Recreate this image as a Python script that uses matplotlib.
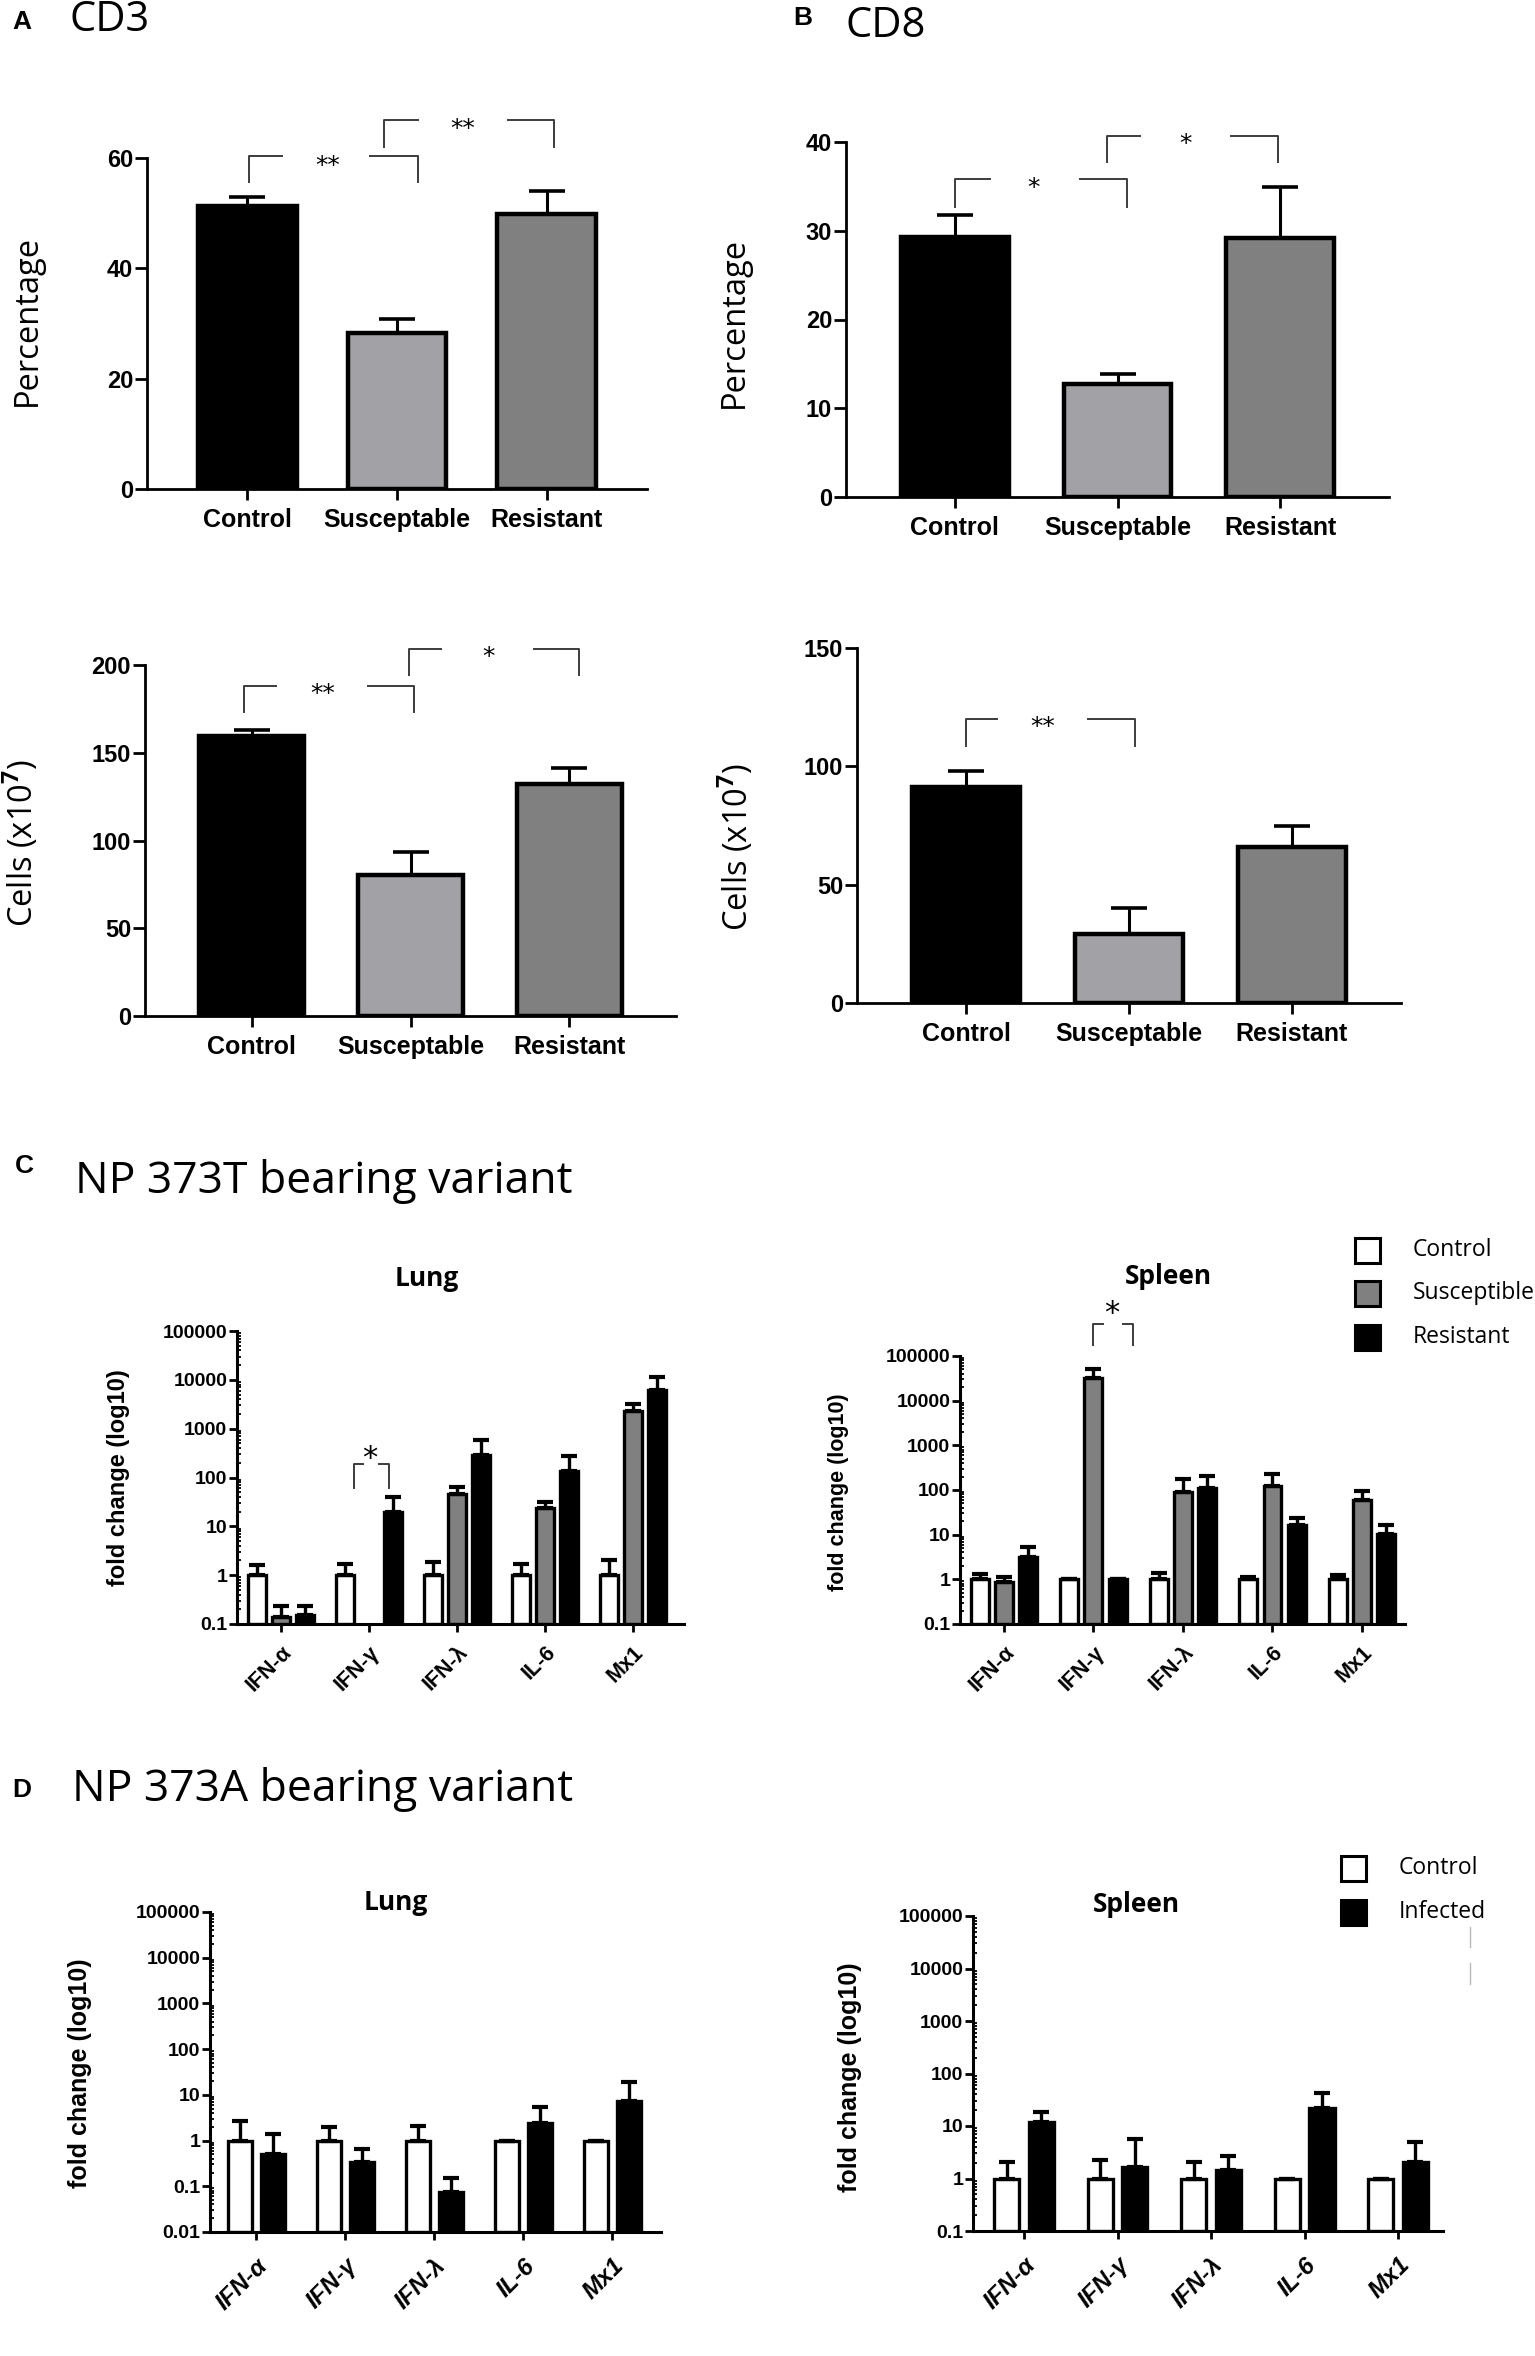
import numpy as np
import matplotlib.pyplot as plt
from matplotlib.patches import Rectangle
from matplotlib.lines import Line2D
from matplotlib.ticker import LogLocator, NullFormatter

plt.rcParams["font.family"] = ["Liberation Sans", "DejaVu Sans"]
plt.rcParams["font.weight"] = "bold"
plt.rcParams["mathtext.fontset"] = "custom"
plt.rcParams["mathtext.rm"] = "Open Sans"

W, H = 1535, 2356  # output size in pixels

# ---- panels A / B : mean and SEM ----
ab_groups = ["Control", "Susceptable", "Resistant"]
cd3_pct = [51.3, 28.3, 49.9]
cd3_pct_err = [1.7, 2.5, 4.2]
cd3_cells = [159.5, 80.2, 132.4]
cd3_cells_err = [3.5, 13.1, 9.1]
cd8_pct = [29.3, 12.7, 29.2]
cd8_pct_err = [2.5, 1.2, 5.7]
cd8_cells = [91.1, 29.0, 65.8]
cd8_cells_err = [7.0, 11.3, 9.1]

# ---- panels C / D : fold change ----
genes = ["IFN-α", "IFN-γ", "IFN-λ", "IL-6", "Mx1"]
c_groups = ["Control", "Susceptible", "Resistant"]
c_lung = [[1.0, 1.0, 1.0, 1.0, 1.0],
          [0.14, np.nan, 46, 23.8, 2340],
          [0.155, 19.5, 290, 137, 6160]]
c_lung_err = [[0.6, 0.73, 0.85, 0.73, 1.05],
              [0.095, np.nan, 19, 8, 820],
              [0.08, 19.5, 295, 135, 5240]]
c_spleen = [[1.0, 1.0, 1.0, 1.0, 1.0],
            [0.89, 33000, 92, 125, 60],
            [3.13, 1.0, 113, 16.7, 10.3]]
c_spleen_err = [[0.34, 0, 0.4, 0.1, 0.25],
                [0.26, 17600, 83, 98, 37],
                [2.2, 0, 96, 6.8, 6.4]]

d_groups = ["Control", "Infected"]
d_lung = [[1.0, 1.0, 1.0, 1.0, 1.0],
          [0.50, 0.34, 0.074, 2.47, 7.3]]
d_lung_err = [[1.72, 1.0, 1.13, 0, 0],
              [0.9, 0.31, 0.076, 3.0, 12.1]]
d_spleen = [[1.0, 1.0, 1.0, 1.0, 1.0],
            [11.7, 1.69, 1.45, 22.2, 2.1]]
d_spleen_err = [[1.02, 1.28, 1.02, 0, 0],
                [6.6, 3.9, 1.2, 20.2, 2.9]]

c_ticks = [0.1, 1, 10, 100, 1000, 10000, 100000]
d_lung_ticks = [0.01, 0.1, 1, 10, 100, 1000, 10000, 100000]

AB_COLORS = ["black", "#a2a2a6", "#808080"]
C_COLORS = ["white", "#808080", "black"]
D_COLORS = ["white", "black"]
BRACKET_COLOR = "#3c3c3c"

fig = plt.figure(figsize=(W / 100, H / 100), dpi=100)


def add_ax(left, top, right, bottom):
    """ axes from a pixel box """
    return fig.add_axes([left / W, 1 - bottom / H, (right - left) / W, (bottom - top) / H])


def ftext(x, y, s, **kw):
    return fig.text(x / W, 1 - y / H, s, **kw)


def style_spines(ax, lw):
    for s in ["top", "right"]:
        ax.spines[s].set_visible(False)
    for s in ["left", "bottom"]:
        ax.spines[s].set_linewidth(lw)


def bar_panel(box, values, errs, yticks):
    ax = add_ax(*box)
    x = np.arange(len(ab_groups))
    ax.bar(x, values, width=0.66, color=AB_COLORS, edgecolor="k", linewidth=3.2, zorder=2)
    ax.errorbar(x, values, yerr=[np.zeros(len(x)), errs], fmt="none", ecolor="k",
                elinewidth=2.2, capsize=13, capthick=2.6, zorder=3)
    style_spines(ax, 2.0)
    ax.set_xlim(-0.67, 2.67)
    ax.set_ylim(0, yticks[-1])
    ax.set_yticks(yticks)
    ax.set_xticks(x, ab_groups)
    ax.tick_params(axis="y", length=9, width=2, pad=1, labelsize=17)
    ax.tick_params(axis="x", length=8, width=2, pad=6, labelsize=18)
    return ax


def bracket(ax, x1, x2, ytop, ybot, g1, g2, label, tx, ty, size=18):
    kw = dict(color=BRACKET_COLOR, lw=1.4, clip_on=False, solid_joinstyle="round")
    ax.plot([x1, x1, g1], [ybot, ytop, ytop], **kw)
    ax.plot([g2, x2, x2], [ytop, ytop, ybot], **kw)
    ax.text(tx, ty, label, ha="center", va="center", fontsize=size,
            family="DejaVu Sans", weight="normal", clip_on=False)


def log_panel(box, xlim, series, errs, colors, offsets, width, ticks, capsize,
              xlabel_size, xlabel_pad, italic=False):
    ax = add_ax(*box)
    ax.set_yscale("log")
    base = ticks[0]
    x = np.arange(len(genes))
    for vals, err, col, off in zip(series, errs, colors, offsets):
        v = np.array(vals, float)
        e = np.array(err, float)
        ax.bar(x + off, v - base, bottom=base, width=width, color=col,
               edgecolor="k", linewidth=2.4, zorder=2)
        ax.errorbar(x + off, v, yerr=[np.zeros(len(x)), e], fmt="none", ecolor="k",
                    elinewidth=2.4, capsize=capsize, capthick=3, zorder=3)
    style_spines(ax, 2.2)
    ax.set_xlim(*xlim)
    ax.set_ylim(ticks[0], ticks[-1])
    ax.set_yticks(ticks, ["%g" % t if t < 1 else "%d" % t for t in ticks])
    ax.yaxis.set_minor_locator(LogLocator(base=10, subs=np.arange(2, 10), numticks=30))
    ax.yaxis.set_minor_formatter(NullFormatter())
    ax.set_xticks(x)
    ax.set_xticklabels(genes, rotation=45, ha="right", rotation_mode="anchor",
                       fontsize=xlabel_size, style="italic" if italic else "normal")
    ax.tick_params(axis="y", which="major", length=6, width=2, pad=1, labelsize=14)
    ax.tick_params(axis="y", which="minor", direction="in", length=3, width=1.3)
    ax.tick_params(axis="x", length=6, width=2, pad=xlabel_pad)
    return ax


def legend_boxes(x, ys, labels, colors, size=16.5):
    for y, lab, col in zip(ys, labels, colors):
        fig.add_artist(Rectangle((x / W, 1 - (y + 13) / H), 25 / W, 25 / H,
                                 transform=fig.transFigure, facecolor=col,
                                 edgecolor="k", linewidth=2.2))
        ftext(x + 58, y, lab, ha="left", va="center", fontsize=size,
              family="Open Sans", weight="normal")


# ---------------- A : CD3 ----------------
ftext(22, 22, "A", ha="center", va="center", fontsize=19)
ftext(70, 20, "CD3", ha="left", va="center", fontsize=30, family="Open Sans", weight="normal")
a1 = bar_panel((147, 158, 647, 489), cd3_pct, cd3_pct_err, [0, 20, 40, 60])
bracket(a1, 0.01, 1.14, 60.3, 55.6, 0.23, 0.82, "**", 0.54, 58.6)
bracket(a1, 0.915, 2.05, 66.9, 62.0, 1.14, 1.74, "**", 1.44, 65.3)
ftext(27, 320, "Percentage", rotation=90, ha="center", va="center", fontsize=23.5,
      family="Open Sans", weight="normal")

a2 = bar_panel((145, 665, 676, 1016), cd3_cells, cd3_cells_err, [0, 50, 100, 150, 200])
bracket(a2, -0.05, 1.02, 188.2, 173.0, 0.155, 0.73, "**", 0.45, 183.5)
bracket(a2, 0.99, 2.06, 208.9, 194.3, 1.19, 1.775, "*", 1.49, 204.5)
ftext(21, 843, "Cells (x10$^{7}$)", rotation=90, ha="center", va="center", fontsize=23.5,
      family="Open Sans", weight="normal")

# ---------------- B : CD8 ----------------
ftext(803, 18, "B", ha="center", va="center", fontsize=19)
ftext(845, 26, "CD8", ha="left", va="center", fontsize=30, family="Open Sans", weight="normal")
b1 = bar_panel((846, 142, 1389, 497), cd8_pct, cd8_pct_err, [0, 10, 20, 30, 40])
bracket(b1, 0.0, 1.058, 35.8, 32.7, 0.215, 0.77, "*", 0.485, 34.8)
bracket(b1, 0.936, 1.987, 40.7, 37.7, 1.14, 1.70, "*", 1.417, 39.8)
ftext(734, 322, "Percentage", rotation=90, ha="center", va="center", fontsize=23.5,
      family="Open Sans", weight="normal")

b2 = bar_panel((857, 648, 1401, 1003), cd8_cells, cd8_cells_err, [0, 50, 100, 150])
bracket(b2, 0.0, 1.036, 120.1, 108.7, 0.19, 0.746, "**", 0.47, 116.5)
ftext(736, 847, "Cells (x10$^{7}$)", rotation=90, ha="center", va="center", fontsize=23.5,
      family="Open Sans", weight="normal")

# ---------------- C : NP 373T ----------------
ftext(24, 1166, "C", ha="center", va="center", fontsize=19)
ftext(75, 1182, "NP 373T bearing variant", ha="left", va="center", fontsize=32,
      family="Open Sans", weight="normal")

c1 = log_panel((237, 1331, 684, 1624), (-0.5, 4.58), c_lung, c_lung_err, C_COLORS,
               [-0.275, 0, 0.275], 0.21, c_ticks, 6, 15.5, 7)
bracket(c1, 0.83, 1.23, 190, 60, 0.93, 1.11, "*", 1.01, 250, size=22)
ftext(427, 1278, "Lung", ha="center", va="center", fontsize=19, family="Open Sans")
ftext(118, 1478, "fold change (log10)", rotation=90, ha="center", va="center", fontsize=17)

c2 = log_panel((960, 1356, 1405, 1624), (-0.49, 4.48), c_spleen, c_spleen_err, C_COLORS,
               [-0.27, 0, 0.27], 0.2, c_ticks, 6, 15.5, 7)
bracket(c2, 0.997, 1.44, 5.2e5, 1.76e5, 1.11, 1.33, "*", 1.21, 9.0e5, size=22)
ftext(1168, 1276, "Spleen", ha="center", va="center", fontsize=19, family="Open Sans")
ftext(838, 1492, "fold change (log10)", rotation=90, ha="center", va="center", fontsize=15.5)
legend_boxes(1355, [1250, 1293, 1337], c_groups, C_COLORS)

# ---------------- D : NP 373A ----------------
ftext(22, 1790, "D", ha="center", va="center", fontsize=19)
ftext(72, 1789, "NP 373A bearing variant", ha="left", va="center", fontsize=32,
      family="Open Sans", weight="normal")

d1 = log_panel((210, 1912, 661, 2232), (-0.52, 4.55), d_lung, d_lung_err, D_COLORS,
               [-0.185, 0.185], 0.27, d_lung_ticks, 5.5, 17.5, 10, italic=True)
ftext(396, 1903, "Lung", ha="center", va="center", fontsize=19, family="Open Sans")
ftext(80, 2073, "fold change (log10)", rotation=90, ha="center", va="center", fontsize=18)

d2 = log_panel((973, 1916, 1443, 2231), (-0.545, 4.48), d_spleen, d_spleen_err, D_COLORS,
               [-0.185, 0.185], 0.27, c_ticks, 5.5, 17.5, 10, italic=True)
ftext(1136, 1904, "Spleen", ha="center", va="center", fontsize=19, family="Open Sans")
ftext(850, 2077, "fold change (log10)", rotation=90, ha="center", va="center", fontsize=18)
legend_boxes(1341, [1868, 1912], d_groups, D_COLORS)

# faint marks to the right of the D legend
for y0, y1 in [(1927, 1947), (1963, 1984)]:
    fig.add_artist(Line2D([1470 / W, 1470 / W], [1 - y0 / H, 1 - y1 / H],
                          transform=fig.transFigure, color="#b8b8b8", lw=1))

fig.savefig("out.png", dpi=100, facecolor="white")
